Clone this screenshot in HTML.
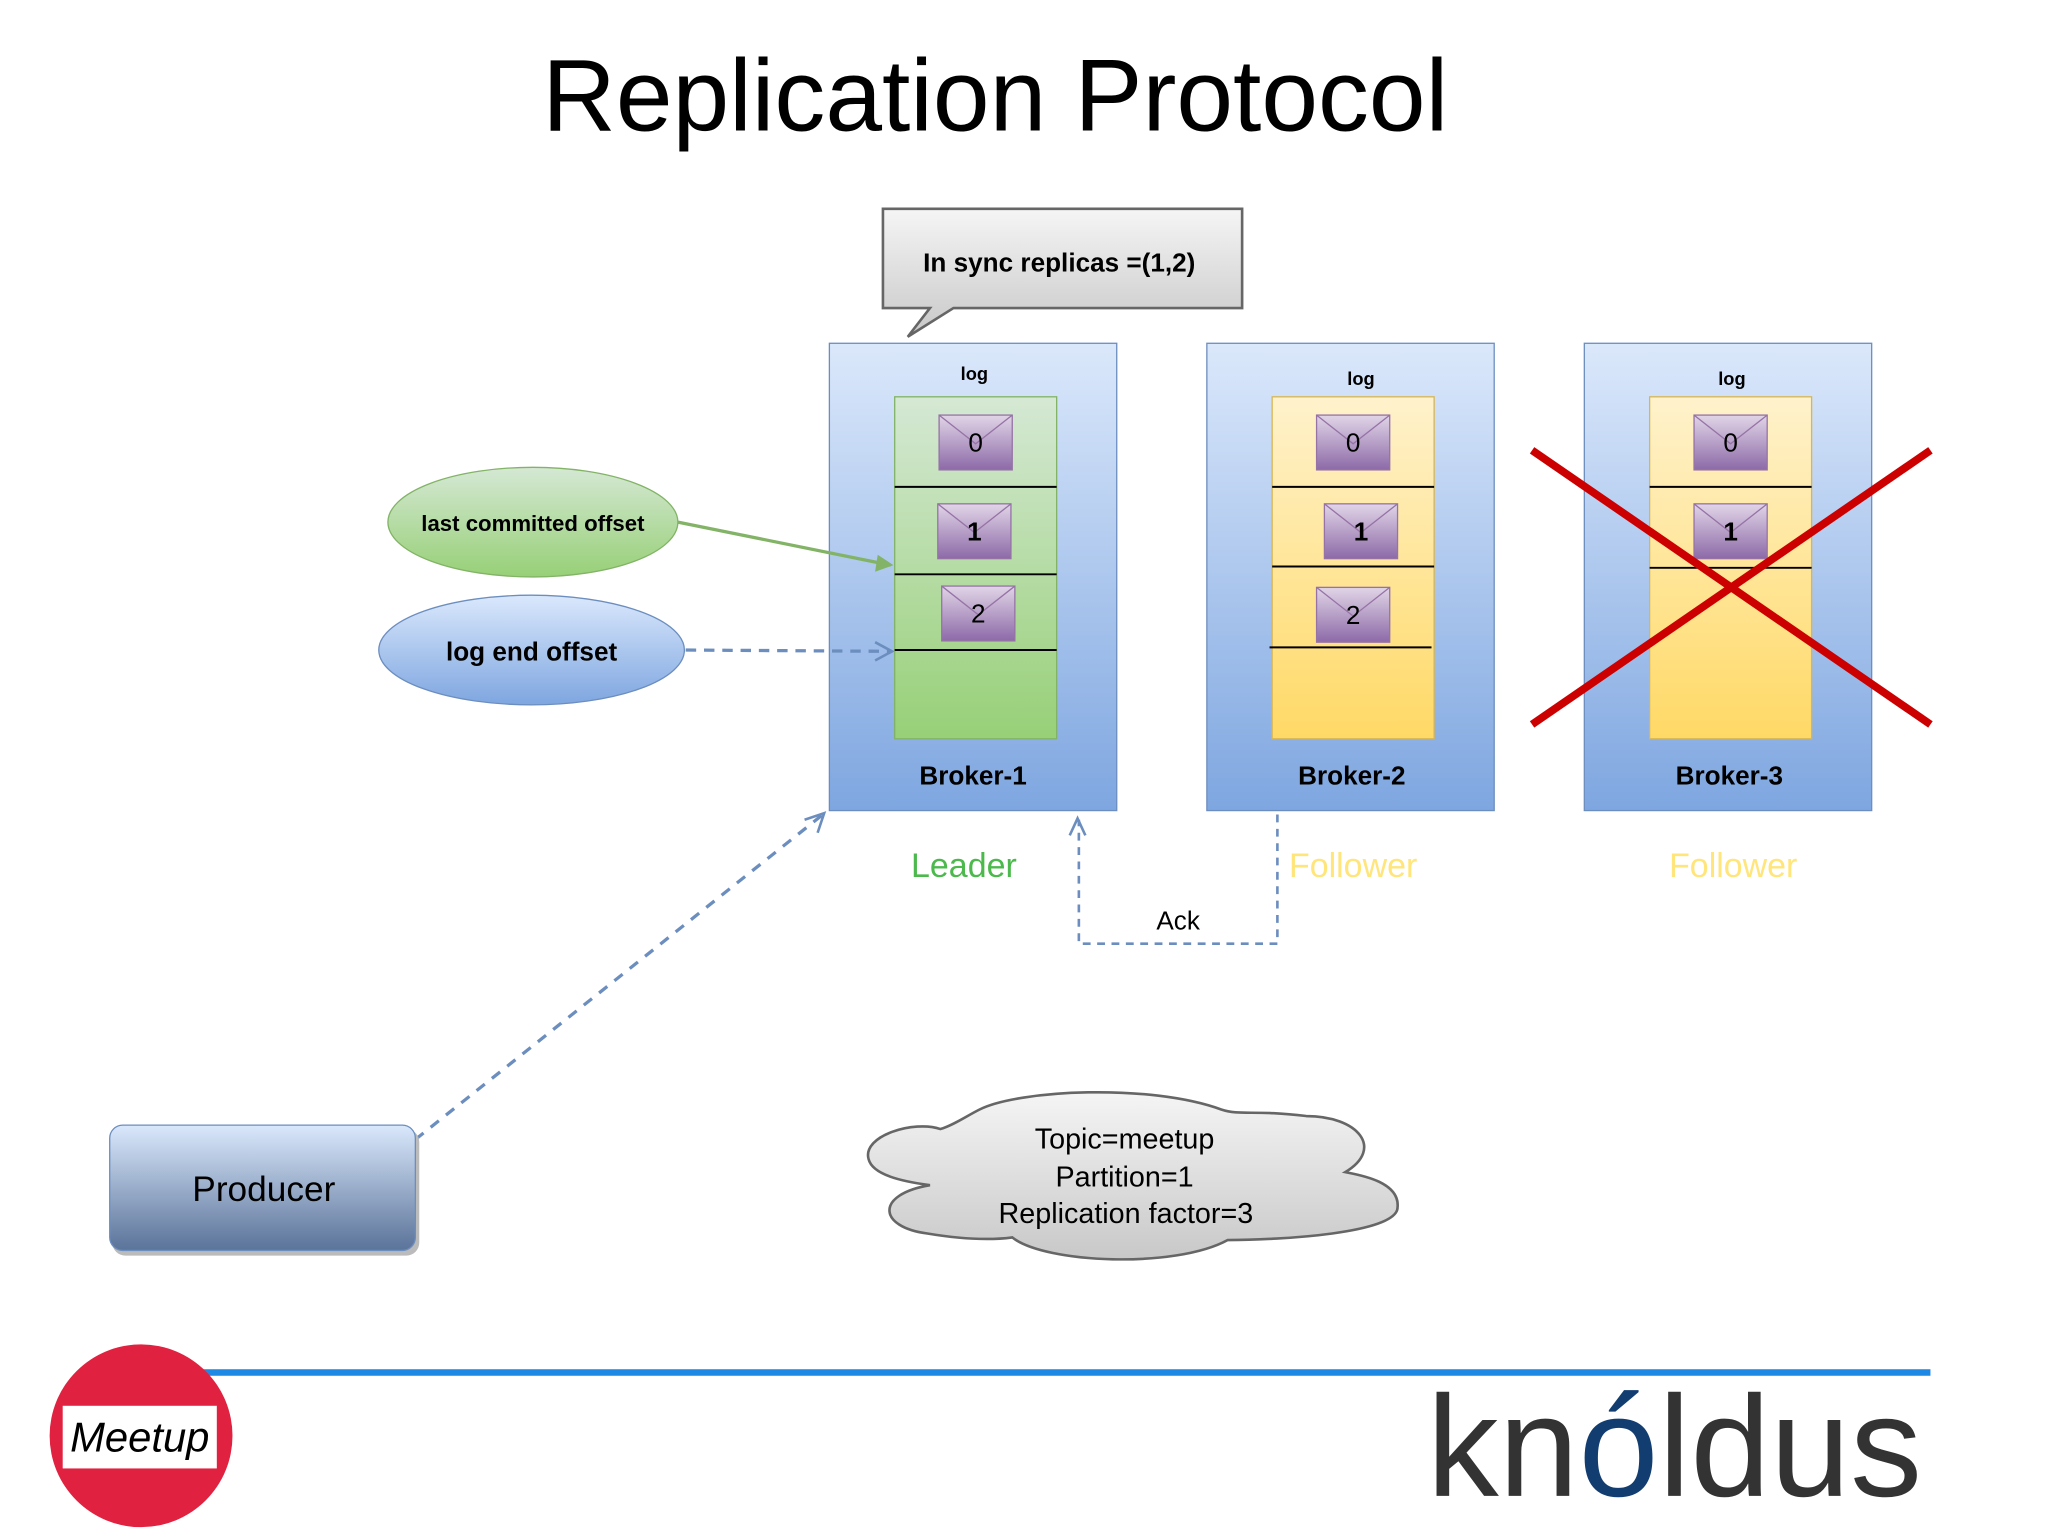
<!DOCTYPE html>
<html><head><meta charset="utf-8"><style>
html,body{margin:0;padding:0;background:#fff;}
svg{display:block;}
text{font-family:"Liberation Sans",sans-serif;}
</style></head><body>
<svg width="2048" height="1535" viewBox="0 0 1568 1176" preserveAspectRatio="none" xmlns="http://www.w3.org/2000/svg">
<defs>
<linearGradient id="blue" x1="0" y1="0" x2="0" y2="1"><stop offset="0" stop-color="#dbe8fb"/><stop offset="1" stop-color="#7ea6e0"/></linearGradient>
<linearGradient id="green" x1="0" y1="0" x2="0" y2="1"><stop offset="0" stop-color="#d5e8d4"/><stop offset="1" stop-color="#97d077"/></linearGradient>
<linearGradient id="yellow" x1="0" y1="0" x2="0" y2="1"><stop offset="0" stop-color="#fff2cc"/><stop offset="1" stop-color="#ffd966"/></linearGradient>
<linearGradient id="purple" x1="0" y1="0" x2="0" y2="1"><stop offset="0" stop-color="#e1d5e7"/><stop offset="1" stop-color="#8d6aa8"/></linearGradient>
<linearGradient id="gray" x1="0" y1="0" x2="0" y2="1"><stop offset="0" stop-color="#f5f5f5"/><stop offset="1" stop-color="#c8c8c8"/></linearGradient>
<linearGradient id="prod" x1="0" y1="0" x2="0" y2="1"><stop offset="0" stop-color="#dae8fc"/><stop offset="1" stop-color="#5a7399"/></linearGradient>
<linearGradient id="eg" x1="0" y1="0" x2="0" y2="1"><stop offset="0" stop-color="#d5e8d4"/><stop offset="1" stop-color="#97d077"/></linearGradient>
<linearGradient id="eb" x1="0" y1="0" x2="0" y2="1"><stop offset="0" stop-color="#dae8fc"/><stop offset="1" stop-color="#7ea6e0"/></linearGradient>
<g id="env"><rect x="0" y="0" width="56" height="42" fill="url(#purple)" stroke="#9673a6"/><path d="M0 0 L28 22 L56 0" fill="none" stroke="#9673a6"/></g>
</defs>
<text x="762" y="100" font-size="78" text-anchor="middle">Replication Protocol</text>
<path d="M676 160 H951 V236 H730 L695 258 L712 236 H676 Z" fill="url(#gray)" stroke="#666" stroke-width="2"/>
<text x="811" y="208" font-size="20" font-weight="bold" text-anchor="middle">In sync replicas =(1,2)</text>
<rect x="635" y="263" width="220" height="358" fill="url(#blue)" stroke="#6c8ebf"/>
<rect x="924" y="263" width="220" height="358" fill="url(#blue)" stroke="#6c8ebf"/>
<rect x="1213" y="263" width="220" height="358" fill="url(#blue)" stroke="#6c8ebf"/>
<rect x="685" y="304" width="124" height="262" fill="url(#green)" stroke="#82b366"/>
<rect x="974" y="304" width="124" height="262" fill="url(#yellow)" stroke="#d6b656"/>
<rect x="1263" y="304" width="124" height="262" fill="url(#yellow)" stroke="#d6b656"/>
<g stroke="#000" stroke-width="1.5">
<line x1="685" y1="373" x2="809" y2="373"/><line x1="685" y1="440" x2="809" y2="440"/><line x1="685" y1="498" x2="809" y2="498"/>
<line x1="974" y1="373" x2="1098" y2="373"/><line x1="974" y1="434" x2="1098" y2="434"/><line x1="972" y1="496" x2="1096" y2="496"/>
<line x1="1263" y1="373" x2="1387" y2="373"/><line x1="1263" y1="435" x2="1387" y2="435"/>
</g>
<use href="#env" x="719" y="318"/><use href="#env" x="718" y="386"/><use href="#env" x="721" y="449"/>
<use href="#env" x="1008" y="318"/><use href="#env" x="1014" y="386"/><use href="#env" x="1008" y="450"/>
<use href="#env" x="1297" y="318"/><use href="#env" x="1297" y="386"/>
<g font-size="20" text-anchor="middle">
<text x="747" y="346">0</text><text x="746" y="414" font-weight="bold">1</text><text x="749" y="477">2</text>
<text x="1036" y="346">0</text><text x="1042" y="414" font-weight="bold">1</text><text x="1036" y="478">2</text>
<text x="1325" y="346">0</text><text x="1325" y="414" font-weight="bold">1</text>
</g>
<g font-size="14" font-weight="bold" text-anchor="middle">
<text x="746" y="291">log</text><text x="1042" y="295">log</text><text x="1326" y="295">log</text>
</g>
<g font-size="20" font-weight="bold" text-anchor="middle">
<text x="745" y="601">Broker-1</text><text x="1035" y="601">Broker-2</text><text x="1324" y="601">Broker-3</text>
</g>
<g stroke="#c00" stroke-width="6"><line x1="1173" y1="345" x2="1478" y2="555"/><line x1="1478" y1="345" x2="1173" y2="555"/></g>
<g font-size="26" text-anchor="middle">
<text x="738" y="672" fill="#4cb94c">Leader</text><text x="1036" y="672" fill="#ffe57a">Follower</text><text x="1327" y="672" fill="#ffe57a">Follower</text>
</g>
<ellipse cx="408" cy="400" rx="111" ry="42" fill="url(#eg)" stroke="#82b366"/>
<text x="408" y="407" font-size="17" font-weight="bold" text-anchor="middle">last committed offset</text>
<ellipse cx="407" cy="498" rx="117" ry="42" fill="url(#eb)" stroke="#6c8ebf"/>
<text x="407" y="506" font-size="20" font-weight="bold" text-anchor="middle">log end offset</text>
<line x1="519" y1="400" x2="682" y2="433" stroke="#82b366" stroke-width="2.5"/>
<path d="M672 425 L684 433 L670 438 Z" fill="#82b366"/>
<line x1="525" y1="498" x2="682" y2="499" stroke="#6c8ebf" stroke-width="2.5" stroke-dasharray="8,6"/>
<path d="M670 492 L683 499 L670 506" fill="none" stroke="#6c8ebf" stroke-width="2"/>
<path d="M978 624 V723 H826 V628" fill="none" stroke="#6c8ebf" stroke-width="2" stroke-dasharray="6,5"/>
<path d="M819 640 L825 627 L831 640" fill="none" stroke="#6c8ebf" stroke-width="2"/>
<text x="902" y="712" font-size="20" text-anchor="middle">Ack</text>
<line x1="318" y1="873" x2="630" y2="624" stroke="#6c8ebf" stroke-width="2.5" stroke-dasharray="8,7"/>
<path d="M616 628 L631 623 L626 638" fill="none" stroke="#6c8ebf" stroke-width="2"/>
<rect x="86" y="865" width="235" height="97" rx="10" fill="#bbb"/>
<rect x="84" y="862" width="234" height="96" rx="10" fill="url(#prod)" stroke="#6c8ebf"/>
<text x="202" y="920" font-size="27" text-anchor="middle">Producer</text>
<path d="M720 865 C700 858 660 870 665 888 C668 900 690 905 712 908 C670 915 672 940 710 945 C740 950 760 950 775 948 C800 968 900 972 940 950 C980 950 1070 945 1070 925 C1072 905 1040 900 1030 898 C1060 880 1040 855 1000 855 C960 850 950 855 935 850 C880 830 780 835 750 850 C740 855 730 862 720 865 Z" fill="url(#gray)" stroke="#666" stroke-width="2"/>
<g font-size="22" text-anchor="middle">
<text x="861" y="880">Topic=meetup</text><text x="861" y="909">Partition=1</text><text x="862" y="937">Replication factor=3</text>
</g>
<rect x="150" y="1049" width="1328" height="5" fill="#1e88e5"/>
<circle cx="108" cy="1100" r="70" fill="#e0213f"/>
<rect x="48" y="1077" width="118" height="48" fill="#fff"/>
<text x="107" y="1112" font-size="32" font-family="Liberation Serif" font-style="italic" text-anchor="middle">Meetup</text>
<text x="1282" y="1146" font-size="110" fill="#333" text-anchor="middle">kn<tspan fill="#123d70">ó</tspan>ldus</text>
</svg>
</body></html>
